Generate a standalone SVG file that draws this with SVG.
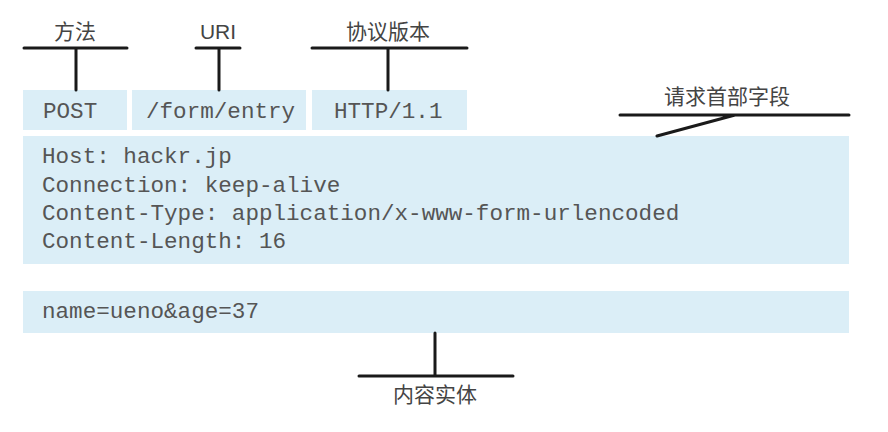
<svg xmlns="http://www.w3.org/2000/svg" width="888" height="432" viewBox="0 0 888 432">
<style>
.box{fill:#dbeef7}
.mono{font-family:"Liberation Mono","Courier New",monospace;font-size:22.6px;fill:#555}
.lbl{font-family:"Noto Sans CJK SC","Noto Sans",sans-serif;font-size:21px;fill:#444;text-anchor:middle}
.ln{stroke:#1a1a1a;stroke-width:3;fill:none;stroke-linecap:round}
</style>
<rect width="888" height="432" fill="#fff"/>
<g id="method">
<rect class="box" x="23" y="90" width="104" height="40"/>
<text class="mono" x="43" y="118">POST</text>
</g>
<g id="uri">
<rect class="box" x="132" y="90" width="174" height="40"/>
<text class="mono" x="146" y="118">/form/entry</text>
</g>
<g id="version">
<rect class="box" x="312" y="90" width="155" height="40"/>
<text class="mono" x="334" y="118">HTTP/1.1</text>
</g>
<g id="headers">
<rect class="box" x="23" y="136" width="826" height="128"/>
<text class="mono" x="42" y="163">Host: hackr.jp</text>
<text class="mono" x="42" y="192">Connection: keep-alive</text>
<text class="mono" x="42" y="220">Content-Type: application/x-www-form-urlencoded</text>
<text class="mono" x="42" y="248">Content-Length: 16</text>
</g>
<g id="body">
<rect class="box" x="23" y="291" width="826" height="42"/>
<text class="mono" x="42" y="318">name=ueno&amp;age=37</text>
</g>
<g id="labels">
<text class="lbl" x="75" y="39">方法</text>
<text class="lbl" x="218" y="39" style="font-family:'Liberation Sans',sans-serif">URI</text>
<text class="lbl" x="388" y="39">协议版本</text>
<text class="lbl" x="727" y="104">请求首部字段</text>
<text class="lbl" x="435" y="402">内容实体</text>
</g>
<g id="connectors">
<path class="ln" d="M24 48H127M76 48V90"/>
<path class="ln" d="M196 48H240M219 48V90"/>
<path class="ln" d="M312 48H467M388 48V90"/>
<path class="ln" d="M620 115H849M735 115L657 136"/>
<path class="ln" d="M359 376H513M435 376V333"/>
</g>
</svg>
